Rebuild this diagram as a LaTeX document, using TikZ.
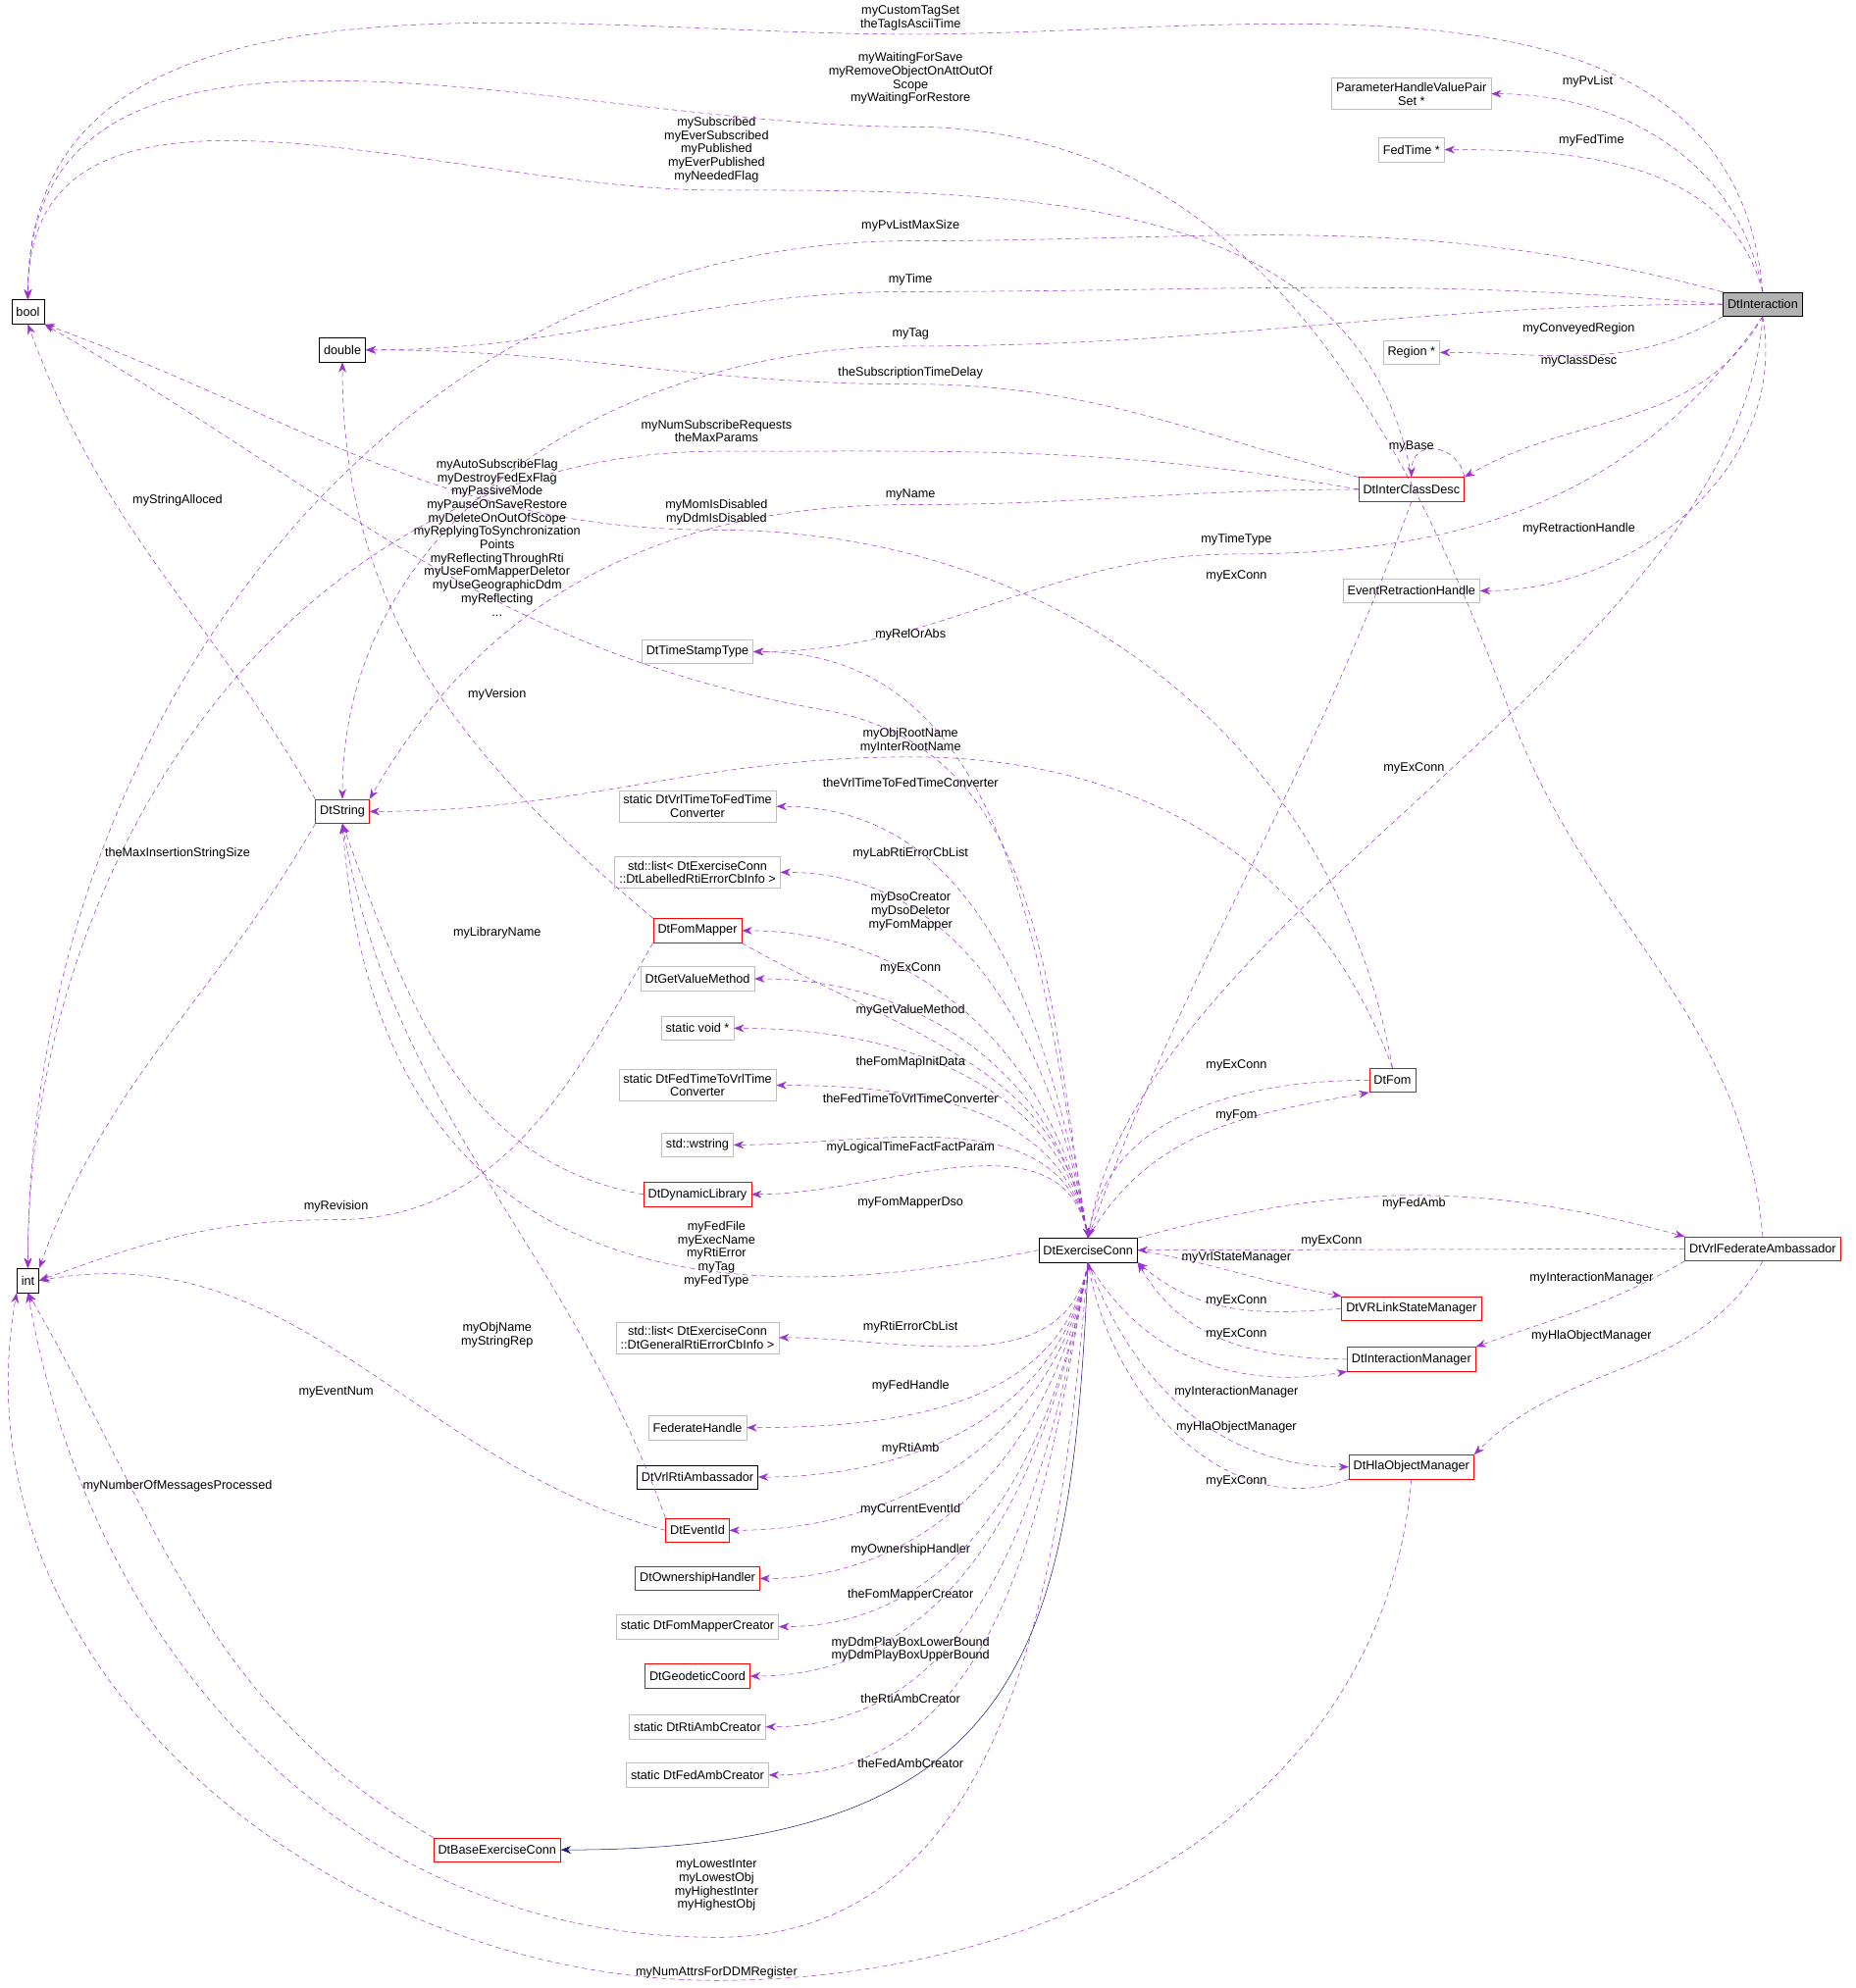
\documentclass[tikz,border=0pt]{standalone}
\usepackage{fontspec}
\setmainfont{Liberation Sans}
\usetikzlibrary{arrows.meta}
\definecolor{ec}{HTML}{9A32CD}
\definecolor{nv}{HTML}{191970}
\begin{document}
\begin{tikzpicture}[x=1pt,y=-1pt,
 f/.style={font=\fontsize{9.8}{10.6}\selectfont},
 b/.style={f,draw=black,fill=white,inner sep=3.5pt,minimum height=19,align=center},
 r/.style={b,draw=red},
 g/.style={b,draw=black!25},
 e/.style={draw=ec,dash pattern=on 4pt off 3pt,-{Stealth[length=8pt,width=6pt]}},
 l/.style={f,align=center,inner sep=0}]
\useasboundingbox (0,0) rectangle (1463,1568);
% nodes
\node[b,fill=black!30] (DI) at (1390,240) {DtInteraction};
\node[g] (PH) at (1113,74) {ParameterHandleValuePair\\Set *};
\node[g] (FT) at (1113,118) {FedTime *};
\node[g] (RG) at (1113,278) {Region *};
\node[g] (ER) at (1113,466) {EventRetractionHandle};
\node[b] (BO) at (22,246) {bool};
\node[b] (DB) at (270,276) {double};
\node[b] (IN) at (22,1010) {int};
\node[r] (DS) at (270,640) {DtString};
\node[r] (IC) at (1113,386) {DtInterClassDesc};
\node[g] (TS) at (550,514) {DtTimeStampType};
\node[g] (C1) at (550,636) {static DtVrlTimeToFedTime\\Converter};
\node[g] (L1) at (550,688) {std::list< DtExerciseConn\\::DtLabelledRtiErrorCbInfo >};
\node[r] (FM) at (550,734) {DtFomMapper};
\node[g] (GV) at (550,772) {DtGetValueMethod};
\node[g] (SV) at (550,811) {static void *};
\node[g] (C2) at (550,856) {static DtFedTimeToVrlTime\\Converter};
\node[g] (WS) at (550,903) {std::wstring};
\node[r] (DL) at (550,942) {DtDynamicLibrary};
\node[b] (EC) at (858,986) {DtExerciseConn};
\node[g] (L2) at (550,1055) {std::list< DtExerciseConn\\::DtGeneralRtiErrorCbInfo >};
\node[g] (FH) at (550,1126) {FederateHandle};
\node[b] (RA) at (550,1165) {DtVrlRtiAmbassador};
\node[r] (EI) at (550,1207) {DtEventId};
\node[r] (OH) at (550,1245) {DtOwnershipHandler};
\node[g] (FC) at (550,1283) {static DtFomMapperCreator};
\node[r] (GC) at (550,1322) {DtGeodeticCoord};
\node[g] (RC) at (550,1362) {static DtRtiAmbCreator};
\node[g] (AC) at (550,1400) {static DtFedAmbCreator};
\node[r] (BE) at (392,1459) {DtBaseExerciseConn};
\node[r] (FO) at (1098,852) {DtFom};
\node[r] (VF) at (1390,985) {DtVrlFederateAmbassador};
\node[r] (VS) at (1113,1032) {DtVRLinkStateManager};
\node[r] (IM) at (1113,1072) {DtInteractionManager};
\node[r] (HO) at (1113,1157) {DtHlaObjectManager};
% DtInteraction edges
\draw[e] (DI.north) to[out=95,in=0] (718,27) to[out=180,in=90] (BO.north);
\node[l] at (718,14) {myCustomTagSet\\theTagIsAsciiTime};
\draw[e] (DI.north) to[out=100,in=0] (PH.east); \node[l] at (1252,64) {myPvList};
\draw[e] (DI.north) to[out=105,in=0] (FT.east); \node[l] at (1255,111) {myFedTime};
\draw[e] (DI.north west) to[out=165,in=0] (718,190) to[out=180,in=90] (IN.north); \node[l] at (718,178) {myPvListMaxSize};
\draw[e] (DI.west) to[out=175,in=0] (718,230) to[out=180,in=0] (DB.east); \node[l] at (718,221) {myTime};
\draw[e] (DI.west) to[out=180,in=0] (718,273) to[out=180,in=90] (DS.north); \node[l] at (718,263) {myTag};
\draw[e] (DI.south west) to[out=-150,in=0] (RG.east); \node[l] at (1245,259) {myConveyedRegion};
\draw[e] (DI.south) to[out=-120,in=30] (IC.north east); \node[l] at (1245,285) {myClassDesc};
\draw[e] (DI.south) to[out=-125,in=0] (975,437) to[out=180,in=0] (TS.east); \node[l] at (975,426) {myTimeType};
\draw[e] (DI.south) to[out=-80,in=0] (ER.east); \node[l] at (1245,417) {myRetractionHandle};
\draw[e] (DI.south) .. controls (1370,520) and (900,720) .. (EC.north); \node[l] at (1115,606) {myExConn};
% DtInterClassDesc
\draw[e] (IC.north) to[out=100,in=0] (565,150) to[out=180,in=90] (BO.north);
\node[l] at (565,118) {mySubscribed\\myEverSubscribed\\myPublished\\myEverPublished\\myNeededFlag};
\draw[e] (IC.north west) to[out=165,in=0] (718,303) to[out=180,in=0] (DB.east); \node[l] at (718,294) {theSubscriptionTimeDelay};
\draw[e] (IC.west) to[out=170,in=0] (565,356) to[out=180,in=90] (IN.north); \node[l] at (565,340) {myNumSubscribeRequests\\theMaxParams};
\draw[e] (IC.west) to[out=180,in=0] (718,398) to[out=180,in=60] (DS.north east); \node[l] at (718,390) {myName};
\draw[e] (IC.north east) .. controls (1150,350) and (1113,345) .. (IC.north); \node[l] at (1113,352) {myBase};
\draw[e] (IC.south) to[out=-110,in=70] (EC.north); \node[l] at (975,454) {myExConn};
% DtVrlFederateAmbassador
\draw[e] (VF.north) to[out=95,in=-70] (1190,560) to[out=110,in=0] (718,100) to[out=180,in=90] (BO.north);
\node[l] at (718,62) {myWaitingForSave\\myRemoveObjectOnAttOutOf\\Scope\\myWaitingForRestore};
\draw[e] (VF.west) -- (EC.east); \node[l] at (1050,979) {myExConn};
\draw[e] (EC.north east) to[out=15,in=165] (VF.north west); \node[l] at (1115,949) {myFedAmb};
\draw[e] (VF.south west) to[out=-150,in=20] (IM.north east); \node[l] at (1255,1008) {myInteractionManager};
\draw[e] (VF.south) to[out=-120,in=45] (HO.north east); \node[l] at (1255,1054) {myHlaObjectManager};
% DtFom
\draw[e] (FO.north) to[out=100,in=0] (565,418) to[out=180,in=-20] (BO.south east); \node[l] at (565,404) {myMomIsDisabled\\myDdmIsDisabled};
\draw[e] (FO.north) to[out=110,in=0] (718,597) to[out=180,in=0] (DS.east); \node[l] at (718,584) {myObjRootName\\myInterRootName};
\draw[e] (FO.west) to[out=180,in=80] (EC.north); \node[l] at (975,840) {myExConn};
\draw[e] (EC.north) to[out=60,in=190] (FO.south west); \node[l] at (975,880) {myFom};
% DtString
\draw[e] (DS.north west) to[out=120,in=-70] (BO.south); \node[l] at (140,395) {myStringAlloced};
\draw[e] (DS.south west) to[out=-120,in=70] (IN.north east); \node[l] at (140,673) {theMaxInsertionStringSize};
% FomMapper
\draw[e] (FM.north west) to[out=140,in=-90] (DB.south); \node[l] at (392,548) {myVersion};
\draw[e] (FM.south west) to[out=-120,in=0] (265,962) to[out=180,in=20] (IN.east); \node[l] at (265,952) {myRevision};
\draw[e] (FM.south east) to[out=-30,in=100] (EC.north); \node[l] at (718,764) {myExConn};
\draw[e] (DL.west) to[out=170,in=-70] (DS.south); \node[l] at (392,736) {myLibraryName};
\draw[e] (EI.west) to[out=165,in=10] (IN.east); \node[l] at (265,1098) {myEventNum};
\draw[e] (EI.north west) to[out=110,in=-80] (DS.south); \node[l] at (392,1053) {myObjName\\myStringRep};
\draw[e] (BE.north west) to[out=150,in=-60] (IN.south); \node[l] at (140,1172) {myNumberOfMessagesProcessed};
\draw[nv,-{Stealth[length=8pt,width=6pt]}] (EC.south) .. controls (845,1300) and (810,1459) .. (BE.east);
% ExerciseConn edges
\draw[e] (EC.north) to[out=100,in=-10] (650,560) to[out=170,in=-30] (BO.south east);
\node[l] at (392,424) {myAutoSubscribeFlag\\myDestroyFedExFlag\\myPassiveMode\\myPauseOnSaveRestore\\myDeleteOnOutOfScope\\myReplyingToSynchronization\\Points\\myReflectingThroughRti\\myUseFomMapperDeletor\\myUseGeographicDdm\\myReflecting\\...};
\foreach \t/\lab/\ly in {TS/myRelOrAbs/501, C1/theVrlTimeToFedTimeConverter/617, L1/myLabRtiErrorCbList/673, GV/myGetValueMethod/797, SV/theFomMapInitData/838, C2/theFedTimeToVrlTimeConverter/866, WS/myLogicalTimeFactFactParam/905, DL/myFomMapperDso/949}
 {\draw[e] (EC.north) to[out=100,in=0] (\t.east); \node[l] at (718,\ly) {\lab};}
\draw[e] (EC.north) to[out=100,in=0] (FM.east); \node[l] at (718,719) {myDsoCreator\\myDsoDeletor\\myFomMapper};
\foreach \t/\lab/\ly in {L2/myRtiErrorCbList/1047, FH/myFedHandle/1093, RA/myRtiAmb/1143, EI/myCurrentEventId/1191, OH/myOwnershipHandler/1222, FC/theFomMapperCreator/1258, RC/theRtiAmbCreator/1340, AC/theFedAmbCreator/1391}
 {\draw[e] (EC.south) to[out=-100,in=0] (\t.east); \node[l] at (718,\ly) {\lab};}
\draw[e] (EC.south) to[out=-100,in=0] (GC.east); \node[l] at (718,1301) {myDdmPlayBoxLowerBound\\myDdmPlayBoxUpperBound};
\draw[e] (EC.west) .. controls (600,1030) and (300,1040) .. (DS.south); \node[l] at (565,989) {myFedFile\\myExecName\\myRtiError\\myTag\\myFedType};
\draw[e] (EC.south) to[out=-95,in=0] (565,1528) to[out=180,in=-80] (IN.south); \node[l] at (565,1487) {myLowestInter\\myLowestObj\\myHighestInter\\myHighestObj};
\draw[e] (EC.east) to[out=-10,in=170] (VS.north west); \node[l] at (975,992) {myVrlStateManager};
\draw[e] (VS.west) to[out=185,in=-40] (EC.south east); \node[l] at (975,1026) {myExConn};
\draw[e] (IM.west) to[out=180,in=-60] (EC.south east); \node[l] at (975,1052) {myExConn};
\draw[e] (EC.south) to[out=-60,in=190] (IM.south west); \node[l] at (975,1098) {myInteractionManager};
\draw[e] (EC.south) to[out=-70,in=180] (HO.west); \node[l] at (975,1126) {myHlaObjectManager};
\draw[e] (HO.south west) to[out=-160,in=-80] (EC.south); \node[l] at (975,1168) {myExConn};
\draw[e] (HO.south) to[out=-95,in=0] (565,1562) to[out=180,in=-100] (IN.south west); \node[l] at (565,1556) {myNumAttrsForDDMRegister};
\end{tikzpicture}
\end{document}
